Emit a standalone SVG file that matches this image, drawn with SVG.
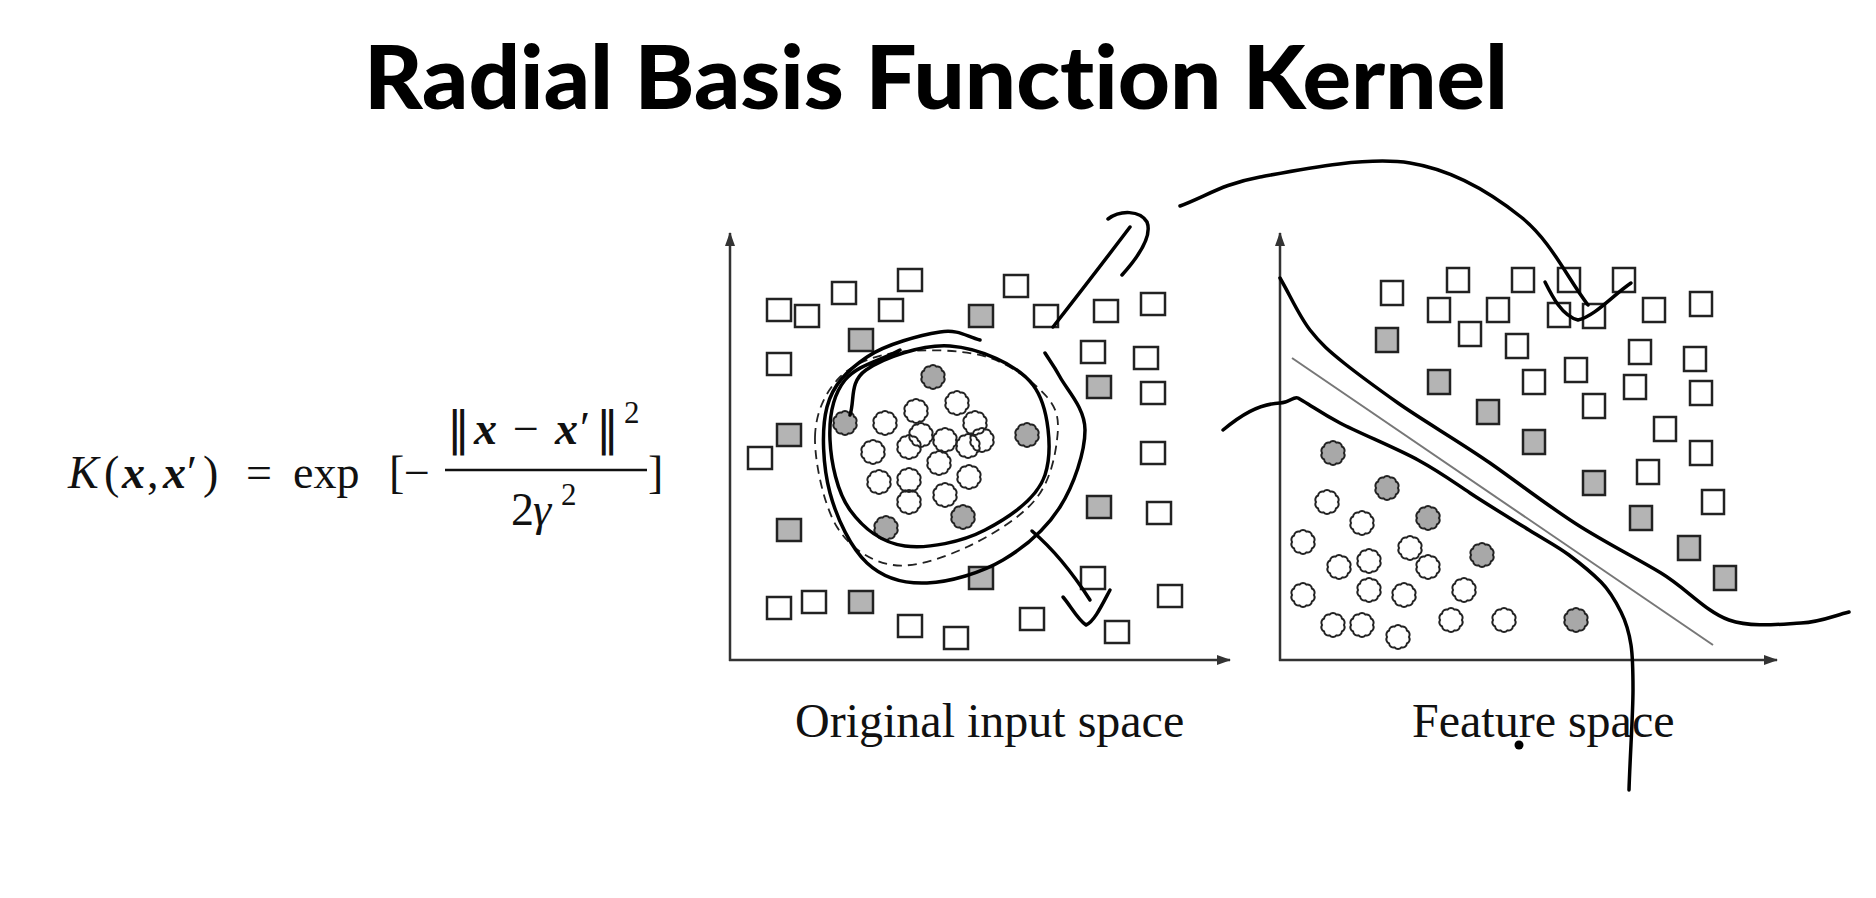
<svg xmlns="http://www.w3.org/2000/svg" xmlns:xlink="http://www.w3.org/1999/xlink" width="1876" height="898" viewBox="0 0 1876 898">
<style>
.title{font-family:Lato,"Open Sans","Liberation Sans",sans-serif;font-weight:900;font-size:88px;fill:#000;font-variant-ligatures:none}
.m{font-family:"Liberation Serif","DejaVu Serif",serif;font-size:46px;fill:#111}
.nb{font-family:"DejaVu Sans","DejaVu Serif",sans-serif;font-size:46px;fill:#111}
.it{font-style:italic}
.bi{font-style:italic;font-weight:bold}
.sup{font-size:31px}
.lbl{font-family:"Liberation Serif","Times New Roman",serif;font-size:48px;fill:#111}
.axis{stroke:#333;stroke-width:2.5;fill:none}
.sw{fill:#fff;stroke:#222;stroke-width:2.5}
.sg{fill:#b4b4b4;stroke:#222;stroke-width:2.5}
.cw{fill:none;stroke:#222;stroke-width:2}
.cg{fill:#a8a8a8;stroke:#222;stroke-width:2}
.ink{fill:none;stroke:#000;stroke-width:3.5;stroke-linecap:round;stroke-linejoin:round}
.dash{fill:none;stroke:#222;stroke-width:1.8;stroke-dasharray:9 6}
.sep{stroke:#777;stroke-width:2}
</style>
<defs>
<marker id="ah" viewBox="0 0 14 10" refX="13" refY="5" markerWidth="14" markerHeight="10" markerUnits="userSpaceOnUse" orient="auto">
<path d="M0,0 L14,5 L0,10 z" fill="#333"/>
</marker>
<path id="c" d="M11,0 A4.5,4.5 0 0 1 8.9,6.47 A4.5,4.5 0 0 1 3.4,10.46 A4.5,4.5 0 0 1 -3.4,10.46 A4.5,4.5 0 0 1 -8.9,6.47 A4.5,4.5 0 0 1 -11,0 A4.5,4.5 0 0 1 -8.9,-6.47 A4.5,4.5 0 0 1 -3.4,-10.46 A4.5,4.5 0 0 1 3.4,-10.46 A4.5,4.5 0 0 1 8.9,-6.47 A4.5,4.5 0 0 1 11,0 Z"/>
</defs>
<rect width="1876" height="898" fill="#fff"/>

<g id="title">
<text class="title" x="364" y="109" textLength="1144" lengthAdjust="spacingAndGlyphs">Radial Basis Function Kernel</text>
</g>

<g id="formula">
<text class="m it" x="68" y="488">K</text>
<text class="m" x="104" y="488">(</text>
<text class="m bi" x="122" y="488">x</text>
<text class="m" x="147" y="488">,</text>
<text class="m bi" x="163" y="488">x</text>
<text class="m" x="187" y="488">′</text>
<text class="m" x="203" y="488">)</text>
<text class="m" x="246" y="488">=</text>
<text class="m" x="293" y="488">exp</text>
<text class="m" x="389" y="488">[</text>
<text class="m" x="404" y="488">−</text>
<line x1="445" y1="470" x2="647" y2="470" stroke="#111" stroke-width="2.5"/>
<text class="m" x="648" y="488">]</text>
<text class="nb" x="447" y="444">‖</text>
<text class="m bi" x="474" y="444">x</text>
<text class="m" x="513" y="444">−</text>
<text class="m bi" x="555" y="444">x</text>
<text class="m" x="580" y="444">′</text>
<text class="nb" x="596" y="444">‖</text>
<text class="m sup" x="624" y="423">2</text>
<text class="m" x="511" y="525">2</text>
<text class="m it" x="533" y="525">γ</text>
<text class="m sup" x="561" y="505">2</text>
</g>

<g id="plot-input">
<path class="dash" d="M815,437 C815.5,412 826,391 840,377 S875.5,355 900,352 S962.5,349.5 987,357 S1035,383 1047,397 S1059,423 1057,440 S1050,482 1035,500 S990.7,536 967,547 S914.7,568 893,565 S850,548 837,527 S814.5,462 815,437 Z"/>
<line class="axis" x1="730" y1="661" x2="730" y2="233" marker-end="url(#ah)"/>
<line class="axis" x1="729" y1="660" x2="1230" y2="660" marker-end="url(#ah)"/>
<g id="input-squares">
<rect class="sw" x="767" y="299" width="24" height="22"/>
<rect class="sw" x="795" y="305" width="24" height="22"/>
<rect class="sw" x="832" y="282" width="24" height="22"/>
<rect class="sw" x="879" y="299" width="24" height="22"/>
<rect class="sw" x="898" y="269" width="24" height="22"/>
<rect class="sw" x="1004" y="275" width="24" height="22"/>
<rect class="sw" x="1034" y="305" width="24" height="22"/>
<rect class="sw" x="1094" y="300" width="24" height="22"/>
<rect class="sw" x="1141" y="293" width="24" height="22"/>
<rect class="sw" x="767" y="353" width="24" height="22"/>
<rect class="sw" x="1081" y="341" width="24" height="22"/>
<rect class="sw" x="1134" y="347" width="24" height="22"/>
<rect class="sw" x="1141" y="382" width="24" height="22"/>
<rect class="sw" x="748" y="447" width="24" height="22"/>
<rect class="sw" x="1141" y="442" width="24" height="22"/>
<rect class="sw" x="1147" y="502" width="24" height="22"/>
<rect class="sw" x="1081" y="567" width="24" height="22"/>
<rect class="sw" x="767" y="597" width="24" height="22"/>
<rect class="sw" x="802" y="591" width="24" height="22"/>
<rect class="sw" x="898" y="615" width="24" height="22"/>
<rect class="sw" x="944" y="627" width="24" height="22"/>
<rect class="sw" x="1020" y="608" width="24" height="22"/>
<rect class="sw" x="1105" y="621" width="24" height="22"/>
<rect class="sw" x="1158" y="585" width="24" height="22"/>
<rect class="sg" x="969" y="305" width="24" height="22"/>
<rect class="sg" x="849" y="329" width="24" height="22"/>
<rect class="sg" x="1087" y="376" width="24" height="22"/>
<rect class="sg" x="777" y="424" width="24" height="22"/>
<rect class="sg" x="777" y="519" width="24" height="22"/>
<rect class="sg" x="1087" y="496" width="24" height="22"/>
<rect class="sg" x="969" y="567" width="24" height="22"/>
<rect class="sg" x="849" y="591" width="24" height="22"/>
</g>
<g id="input-circles">
<use href="#c" class="cg" x="933" y="377"/>
<use href="#c" class="cg" x="845" y="423"/>
<use href="#c" class="cg" x="1027" y="435"/>
<use href="#c" class="cg" x="886" y="528"/>
<use href="#c" class="cg" x="963" y="517"/>
<use href="#c" class="cw" x="885" y="423"/>
<use href="#c" class="cw" x="916" y="411"/>
<use href="#c" class="cw" x="957" y="403"/>
<use href="#c" class="cw" x="975" y="423"/>
<use href="#c" class="cw" x="873" y="452"/>
<use href="#c" class="cw" x="909" y="447"/>
<use href="#c" class="cw" x="921" y="435"/>
<use href="#c" class="cw" x="945" y="440"/>
<use href="#c" class="cw" x="968" y="446"/>
<use href="#c" class="cw" x="982" y="440"/>
<use href="#c" class="cw" x="939" y="463"/>
<use href="#c" class="cw" x="969" y="477"/>
<use href="#c" class="cw" x="879" y="482"/>
<use href="#c" class="cw" x="909" y="480"/>
<use href="#c" class="cw" x="909" y="502"/>
<use href="#c" class="cw" x="945" y="495"/>
</g>
<text class="lbl" x="795" y="737">Original input space</text>
</g>

<g id="plot-feature">
<line class="axis" x1="1280" y1="661" x2="1280" y2="233" marker-end="url(#ah)"/>
<line class="axis" x1="1279" y1="660" x2="1777" y2="660" marker-end="url(#ah)"/>
<line class="sep" x1="1292" y1="358" x2="1713" y2="645"/>
<g id="feature-squares">
<rect class="sw" x="1381" y="281" width="22" height="24"/>
<rect class="sw" x="1447" y="268" width="22" height="24"/>
<rect class="sw" x="1512" y="268" width="22" height="24"/>
<rect class="sw" x="1558" y="268" width="22" height="24"/>
<rect class="sw" x="1613" y="268" width="22" height="24"/>
<rect class="sw" x="1428" y="298" width="22" height="24"/>
<rect class="sw" x="1487" y="298" width="22" height="24"/>
<rect class="sw" x="1548" y="303" width="22" height="24"/>
<rect class="sw" x="1583" y="304" width="22" height="24"/>
<rect class="sw" x="1643" y="298" width="22" height="24"/>
<rect class="sw" x="1690" y="292" width="22" height="24"/>
<rect class="sw" x="1459" y="322" width="22" height="24"/>
<rect class="sw" x="1506" y="334" width="22" height="24"/>
<rect class="sw" x="1629" y="340" width="22" height="24"/>
<rect class="sw" x="1684" y="347" width="22" height="24"/>
<rect class="sw" x="1565" y="358" width="22" height="24"/>
<rect class="sw" x="1523" y="370" width="22" height="24"/>
<rect class="sw" x="1624" y="375" width="22" height="24"/>
<rect class="sw" x="1690" y="381" width="22" height="24"/>
<rect class="sw" x="1583" y="394" width="22" height="24"/>
<rect class="sw" x="1654" y="417" width="22" height="24"/>
<rect class="sw" x="1690" y="441" width="22" height="24"/>
<rect class="sw" x="1637" y="460" width="22" height="24"/>
<rect class="sw" x="1702" y="490" width="22" height="24"/>
<rect class="sg" x="1376" y="328" width="22" height="24"/>
<rect class="sg" x="1428" y="370" width="22" height="24"/>
<rect class="sg" x="1477" y="400" width="22" height="24"/>
<rect class="sg" x="1523" y="430" width="22" height="24"/>
<rect class="sg" x="1583" y="471" width="22" height="24"/>
<rect class="sg" x="1630" y="506" width="22" height="24"/>
<rect class="sg" x="1678" y="536" width="22" height="24"/>
<rect class="sg" x="1714" y="566" width="22" height="24"/>
</g>
<g id="feature-circles">
<use href="#c" class="cg" x="1333" y="453"/>
<use href="#c" class="cg" x="1387" y="488"/>
<use href="#c" class="cg" x="1428" y="518"/>
<use href="#c" class="cg" x="1482" y="555"/>
<use href="#c" class="cg" x="1576" y="620"/>
<use href="#c" class="cw" x="1327" y="502"/>
<use href="#c" class="cw" x="1362" y="523"/>
<use href="#c" class="cw" x="1303" y="542"/>
<use href="#c" class="cw" x="1339" y="567"/>
<use href="#c" class="cw" x="1369" y="561"/>
<use href="#c" class="cw" x="1410" y="548"/>
<use href="#c" class="cw" x="1428" y="567"/>
<use href="#c" class="cw" x="1303" y="595"/>
<use href="#c" class="cw" x="1369" y="590"/>
<use href="#c" class="cw" x="1404" y="595"/>
<use href="#c" class="cw" x="1464" y="590"/>
<use href="#c" class="cw" x="1333" y="625"/>
<use href="#c" class="cw" x="1362" y="625"/>
<use href="#c" class="cw" x="1398" y="637"/>
<use href="#c" class="cw" x="1451" y="620"/>
<use href="#c" class="cw" x="1504" y="620"/>
</g>
<text class="lbl" x="1412" y="737">Feature space</text>
</g>

<g id="annotations">
<path class="ink" d="M980,340 C967,337 959,329 940,332 S886,344 867,357 S833,384 827,407 S823,467 830,493 S851,548 867,563 S904,584 927,583 S981,573 1003,560 S1046,529 1060,507 S1085,452 1085,430 S1067,390 1060,377 S1050,361 1045,353"/>
<path class="ink" d="M850,415 C855,400 849,382 866,370 S922,344 950,346 S1017,364 1033,385 S1053,451 1045,475 S1008,518 985,530 S928,549 905,546 S863,528 850,510 S831,462 830,440 S833,395 845,380 S882,360 900,350"/>
<path class="ink" d="M1032,531 C1052,548 1072,572 1090,600"/>
<path class="ink" d="M1063,597 C1070,605 1078,620 1086,625 C1094,622 1102,605 1110,590"/>
<path class="ink" d="M1053,327 C1078,295 1105,260 1130,227"/>
<path class="ink" d="M1108,219 C1120,210 1140,210 1147,222 C1152,235 1140,255 1122,275"/>
<path class="ink" d="M1180,206 C1207,196 1222,184 1260,177 S1366,156 1410,163 S1491,193 1521,217 S1566,276 1588,305"/>
<path class="ink" d="M1545,282 C1552,296 1562,316 1578,320 C1595,316 1612,296 1631,283"/>
<path class="ink" d="M1280,278 C1290,295 1299,316 1310,330 S1329,351 1344,363 S1374,386 1398,403 S1460,442 1490,463 S1552,509 1581,527 S1636,558 1661,573 S1706,612 1729,620 S1781,624 1801,623 S1833,616 1849,612"/>
<path class="ink" d="M1223,430 C1240,416 1258,404 1280,403 C1290,403 1293,396 1298,398 L1303,401 C1315,408 1321,413 1340,423 S1396,448 1418,460 S1452,481 1470,493 S1513,520 1529,530 S1557,546 1569,555 S1592,573 1601,582 S1616,602 1621,612 S1629,632 1631,645 S1633,666 1633,690 S1630,757 1629,790"/>
<circle cx="1519" cy="745" r="4.5" fill="#000"/>
</g>
</svg>
